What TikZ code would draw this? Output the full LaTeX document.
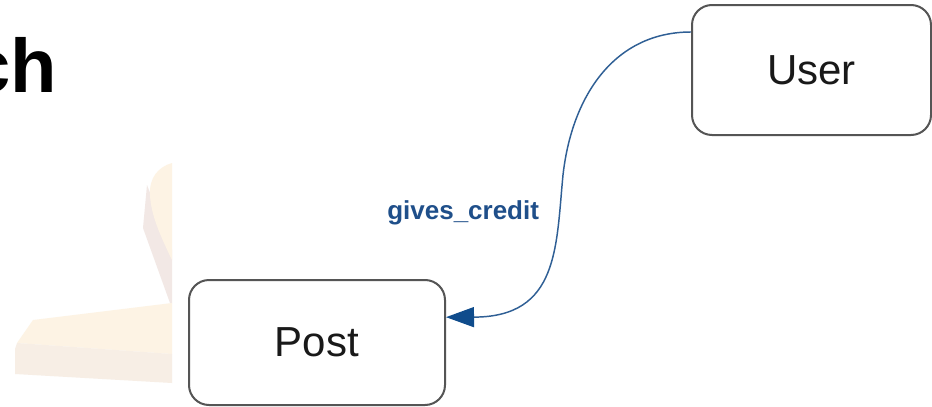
\documentclass[tikz,border=0pt]{standalone}
\usepackage{fontspec}
\setmainfont{Liberation Sans}
\usetikzlibrary{arrows.meta}
\definecolor{cream}{HTML}{FDF3E4}
\definecolor{shadowc}{HTML}{F2E8E5}
\definecolor{slabc}{HTML}{F7EEE5}
\definecolor{boxline}{HTML}{555555}
\definecolor{linkblue}{HTML}{2F5F95}
\definecolor{tipblue}{HTML}{0F4C8C}
\definecolor{lblblue}{HTML}{1F4F8A}
\tikzset{
  entity/.style={draw=boxline, line width=1.5pt, rounded corners=15pt, fill=white,
    font=\fontsize{31.5pt}{36pt}\selectfont, text=black!90},
  conn/.style={draw=linkblue, line width=1.1pt,
    -{Triangle[length=21pt,width=15pt,color=tipblue,fill=tipblue]}},
  lbl/.style={text=lblblue, font=\fontsize{19.5pt}{22pt}\selectfont\bfseries, inner sep=0pt},
}
\begin{document}
\begin{tikzpicture}[x=0.75pt,y=-0.75pt]
\useasboundingbox (0,0) rectangle (932,407);
\fill[white] (0,0) rectangle (932,407);
\begin{scope}
\clip (0,0) rectangle (932,407);
% faint watermark
\fill[shadowc] (147,185) -- (143,228) -- (170,303) -- (172,303) -- (172,250) -- cycle;
\fill[cream] (172,163) .. controls (158,167) and (149,178) .. (150,195)
   .. controls (151,215) and (160,235) .. (172,260) -- cycle;
\fill[cream] (33,320) -- (172,303) -- (172,354) -- (17,343) -- cycle;
\fill[slabc] (17,343) -- (172,354) -- (172,383) -- (15,374) -- (15,349) -- cycle;
% cut title
\node[anchor=base east, inner sep=0pt, font=\fontsize{57pt}{60pt}\selectfont\bfseries, text=black] (title) at (57,92) {ch};
% entities
\node[entity, minimum width=179.25pt, minimum height=97.5pt] (user) at (811.5,70) {User};
\node[entity, minimum width=192pt, minimum height=93.75pt] (post) at (317,342.5) {Post};
% connector
\coordinate (mid) at (563,175);
\draw[conn] ([yshift=28.5pt]user.west) .. controls (615,32) and (572,95) .. (mid)
   .. controls (556,247) and (559,317) .. ([yshift=19pt]post.east);
\node[lbl, anchor=base west] (label) at (387,219) {gives\_credit};
\end{scope}
\end{tikzpicture}
\end{document}
